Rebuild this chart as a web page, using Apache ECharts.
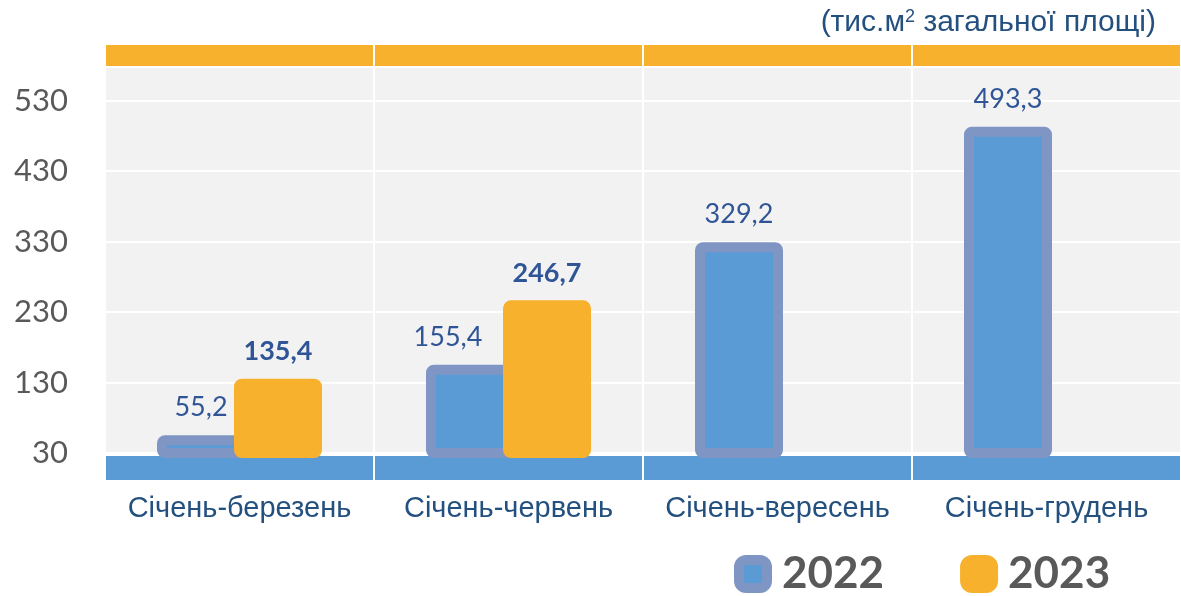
<!DOCTYPE html>
<html>
<head>
<meta charset="utf-8">
<script src="https://cdn.jsdelivr.net/npm/echarts@6/dist/echarts.min.js"></script>
<style>
	html, body {margin: 0; padding: 0; background: #fff;}
	#chart {width: 1181px; height: 596px;}
</style>
</head>
<body>
<div id="chart"></div>
<script>
	// дані
	let categories = ['Січень-березень', 'Січень-червень', 'Січень-вересень', 'Січень-грудень'];
	let years = ['2022', '2023'];
	let values2022 = [55.2, 155.4, 329.2, 493.3];
	let values2023 = [135.4, 246.7, null, null];

	let blue = '#5b9bd5',
		blueBorder = '#7f96c4',
		orange = '#f8b12c',
		textBlue = '#2f5597',
		catBlue = '#24507f';

	function fmt(p){
		return String(p.value).replace('.', ',');
	}

	// підпис 2022 у другій групі зсунутий вліво
	let data2022 = values2022.map(function(v, i){
		if(i == 1){
			return {value: v, label: {offset: [-22, 0]}};
		}
		return v;
	});

	let chart = echarts.init(document.getElementById('chart'));
	let option = {
		animation: false,
		title: {
			text: '(тис.м{s|2} загальної площі)',
			right: 20,
			top: 3,
			textStyle: {
				fontFamily: 'Liberation Sans',
				fontSize: 30,
				fontWeight: 'normal',
				color: catBlue,
				rich: {
					s: {fontFamily: 'Liberation Sans', fontSize: 18, color: catBlue, padding: [0, 0, 12, 0]}
				}
			}
		},
		legend: {
			data: [
				{name: '2022', icon: 'roundRect', itemStyle: {color: blue, borderColor: blueBorder, borderWidth: 10}},
				{name: '2023', icon: 'roundRect', itemStyle: {color: orange, borderColor: orange, borderWidth: 10}}
			],
			left: 734,
			top: 552,
			padding: 0,
			itemWidth: 28,
			itemHeight: 28,
			itemGap: 76,
			textStyle: {
				fontFamily: 'Lato',
				fontWeight: 'bold',
				fontSize: 44,
				color: '#595959',
				padding: [0, 0, 0, 10]
			}
		},
		grid: [
			// основна область
			{left: 105, right: 0, top: 67, bottom: 143, show: true, backgroundColor: '#f2f2f2', borderWidth: 0},
			// верхня помаранчева смуга
			{left: 105, right: 0, top: 45, height: 22, show: true, backgroundColor: orange, borderWidth: 0},
			// нижня синя смуга
			{left: 105, right: 0, top: 456, height: 24, show: true, backgroundColor: blue, borderWidth: 0}
		],
		xAxis: [
			{
				gridIndex: 0, type: 'category', data: categories,
				axisLine: {show: false}, axisTick: {show: false}, axisLabel: {show: false, interval: 0},
				splitLine: {show: true, interval: 0, lineStyle: {color: '#fff', width: 2}}
			},
			{
				gridIndex: 1, type: 'category', data: categories,
				axisLine: {show: false}, axisTick: {show: false}, axisLabel: {show: false, interval: 0},
				splitLine: {show: true, interval: 0, lineStyle: {color: '#fff', width: 2}}
			},
			{
				gridIndex: 2, type: 'category', data: categories,
				axisLine: {show: false}, axisTick: {show: false},
				axisLabel: {
					interval: 0,
					margin: 14,
					fontFamily: 'Liberation Sans',
					fontSize: 29,
					color: catBlue
				},
				splitLine: {show: true, interval: 0, lineStyle: {color: '#fff', width: 2}}
			}
		],
		yAxis: [
			{
				gridIndex: 0, type: 'value', min: 30, max: 578, interval: 100,
				axisLine: {show: false}, axisTick: {show: false},
				axisLabel: {
					showMaxLabel: false,
					margin: 37,
					fontFamily: 'Lato',
					fontSize: 31,
					color: '#595959'
				},
				splitLine: {show: true, lineStyle: {color: '#fff', width: 2}}
			},
			{gridIndex: 1, type: 'value', show: false},
			{gridIndex: 2, type: 'value', show: false}
		],
		series: [
			{
				name: years[0],
				type: 'bar',
				xAxisIndex: 0,
				yAxisIndex: 0,
				data: data2022,
				barWidth: 88,
				barGap: '-12.5%',
				itemStyle: {color: blue, borderColor: blueBorder, borderWidth: 10, borderRadius: 3},
				label: {
					show: true,
					position: 'top',
					distance: 14,
					formatter: fmt,
					fontFamily: 'Lato',
					fontSize: 27,
					color: textBlue
				}
			},
			{
				name: years[1],
				type: 'bar',
				xAxisIndex: 0,
				yAxisIndex: 0,
				data: values2023,
				barWidth: 88,
				barGap: '-12.5%',
				itemStyle: {color: orange, borderColor: orange, borderWidth: 10, borderRadius: 3},
				label: {
					show: true,
					position: 'top',
					distance: 14,
					formatter: fmt,
					fontFamily: 'Lato',
					fontWeight: 'bold',
					fontSize: 27,
					color: textBlue
				}
			}
		]
	};
	chart.setOption(option);
</script>
</body>
</html>
